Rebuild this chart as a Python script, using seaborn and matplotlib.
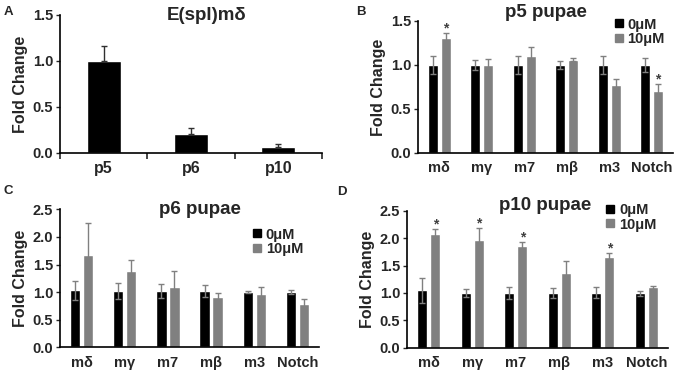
import numpy as np
import pandas as pd
import seaborn as sns
import matplotlib.pyplot as plt
from matplotlib.lines import Line2D

# panel A
stages = ["p5", "p6", "p10"]
a_vals = [1.00, 0.21, 0.07]
a_err = [0.16, 0.06, 0.03]

# panels B-D
genes = ["mδ", "mγ", "m7", "mβ", "m3", "Notch"]
doses = ["0μM", "10μM"]

b_ctrl = [1.00, 1.00, 1.00, 1.00, 1.00, 1.00]
b_ctrl_err = [0.10, 0.06, 0.10, 0.04, 0.10, 0.08]
b_treat = [1.31, 1.00, 1.10, 1.06, 0.77, 0.71]
b_treat_err = [0.05, 0.07, 0.10, 0.02, 0.07, 0.07]
b_sig = [True, False, False, False, False, True]

c_ctrl = [1.03, 1.02, 1.02, 1.02, 1.00, 1.00]
c_ctrl_err = [0.17, 0.15, 0.12, 0.10, 0.02, 0.04]
c_treat = [1.67, 1.39, 1.10, 0.92, 0.97, 0.78]
c_treat_err = [0.58, 0.20, 0.28, 0.07, 0.12, 0.10]
c_sig = [False] * 6

d_ctrl = [1.05, 1.00, 1.00, 1.00, 1.00, 0.99]
d_ctrl_err = [0.23, 0.07, 0.11, 0.09, 0.10, 0.04]
d_treat = [2.07, 1.96, 1.86, 1.36, 1.66, 1.10]
d_treat_err = [0.09, 0.23, 0.06, 0.23, 0.06, 0.02]
d_sig = [True, True, True, False, True, False]

colors = ["#000000", "#808080"]
err_color = "#808080"

sns.set_style("white")
plt.rcParams["font.family"] = ["Liberation Sans", "DejaVu Sans"]
plt.rcParams["font.weight"] = "bold"

W, H = 679, 376
fig = plt.figure(figsize=(W / 100, H / 100), dpi=100)


def px_axes(x0, x1, ytop, ybot):
    return fig.add_axes([x0 / W, 1 - ybot / H, (x1 - x0) / W, (ybot - ytop) / H])


def style_axes(ax, ymax, step, xlabels, xsize):
    for s in ["top", "right"]:
        ax.spines[s].set_visible(False)
    for s in ["left", "bottom"]:
        ax.spines[s].set_color("black")
        ax.spines[s].set_linewidth(1.2)
    ax.set_ylim(0, ymax)
    yt = np.arange(0, ymax + 0.01, step)
    ax.set_yticks(yt, labels=[f"{v:.1f}" for v in yt], fontweight="bold", fontsize=10.5)
    ax.set_xticks(range(len(xlabels)), labels=xlabels, fontweight="bold", fontsize=xsize)
    ax.tick_params(axis="y", direction="out", length=3, width=1, pad=2, left=True)
    ax.tick_params(axis="x", length=0, pad=6)
    ax.set_ylabel("Fold Change", fontsize=11.5, fontweight="bold", labelpad=3)
    ax.set_xlabel("")


def pupae_panel(ax, ctrl, ctrl_err, treat, treat_err, sig, ymax, title, tx, ty, leg_xy):
    df = pd.DataFrame({
        "gene": genes * 2,
        "dose": [doses[0]] * len(genes) + [doses[1]] * len(genes),
        "fc": ctrl + treat,
    })
    sns.barplot(data=df, x="gene", y="fc", hue="dose", order=genes, hue_order=doses,
                palette=colors, width=0.6, gap=0.2, errorbar=None, legend=False,
                saturation=1, ax=ax)
    for cont, errs in zip(ax.containers, [ctrl_err, treat_err]):
        xs = [b.get_x() + b.get_width() / 2 for b in cont]
        ys = [b.get_height() for b in cont]
        ax.errorbar(xs, ys, yerr=errs, fmt="none", ecolor=err_color, elinewidth=1,
                    capsize=2.5, capthick=1)
    tcont = ax.containers[1]
    for b, e, s in zip(tcont, treat_err, sig):
        if s:
            ax.annotate("*", (b.get_x() + b.get_width() / 2, b.get_height() + e),
                        xytext=(0, 0.5), textcoords="offset points", ha="center",
                        va="baseline", fontsize=10, color="#404040")
    ax.set_xlim(-0.5, len(genes) - 0.5)
    style_axes(ax, ymax, 0.5, genes, 10.5)
    ax.text(tx, ty, title, transform=ax.transAxes, ha="center", va="center",
            fontsize=13.5, fontweight="bold")
    handles = [Line2D([], [], marker="s", linestyle="none", markersize=6,
                      markerfacecolor=c, markeredgecolor=c) for c in colors]
    ax.legend(handles, doses, loc="upper left", bbox_to_anchor=leg_xy, frameon=False,
              handletextpad=0.1, labelspacing=0.05, handlelength=1.0, borderaxespad=0,
              prop={"size": 10.5, "weight": "bold"})


# A
axA = px_axes(60, 322, 15, 153)
dfa = pd.DataFrame({"stage": stages, "fc": a_vals})
sns.barplot(data=dfa, x="stage", y="fc", order=stages, color="black", width=0.39,
            errorbar=None, saturation=1, ax=axA)
xa = [b.get_x() + b.get_width() / 2 for b in axA.containers[0]]
axA.errorbar(xa, a_vals, yerr=[np.zeros(len(a_err)), a_err], fmt="none",
             ecolor="#303030", elinewidth=1, capsize=2.5, capthick=1)
axA.set_xlim(-0.5, len(stages) - 0.5)
style_axes(axA, 1.5, 0.5, stages, 11.5)
axA.set_xticks(np.arange(-0.5, len(stages), 1.0), minor=True)
axA.tick_params(axis="x", which="minor", direction="out", length=4, width=1.2, bottom=True)
axA.text(0.56, 1.0, "E(spl)mδ", transform=axA.transAxes, ha="center", va="center",
         fontsize=13.5, fontweight="bold")

# B
axB = px_axes(418, 673, 21, 153)
pupae_panel(axB, b_ctrl, b_ctrl_err, b_treat, b_treat_err, b_sig, 1.5,
            "p5 pupae", 0.50, 1.065, (0.735, 1.07))

# C
axC = px_axes(60, 319, 209.3, 347.3)
pupae_panel(axC, c_ctrl, c_ctrl_err, c_treat, c_treat_err, c_sig, 2.5,
            "p6 pupae", 0.54, 0.995, (0.71, 0.91))

# D
axD = px_axes(407, 668, 210.7, 347.7)
pupae_panel(axD, d_ctrl, d_ctrl_err, d_treat, d_treat_err, d_sig, 2.5,
            "p10 pupae", 0.53, 1.04, (0.728, 1.10))

for lbl, x, y in [("A", 8, 12), ("B", 361, 12), ("C", 8, 191), ("D", 342, 192)]:
    fig.text(x / W, 1 - y / H, lbl, ha="center", va="center", fontsize=9.5,
             fontweight="bold")

fig.savefig("out.png", dpi=100)
